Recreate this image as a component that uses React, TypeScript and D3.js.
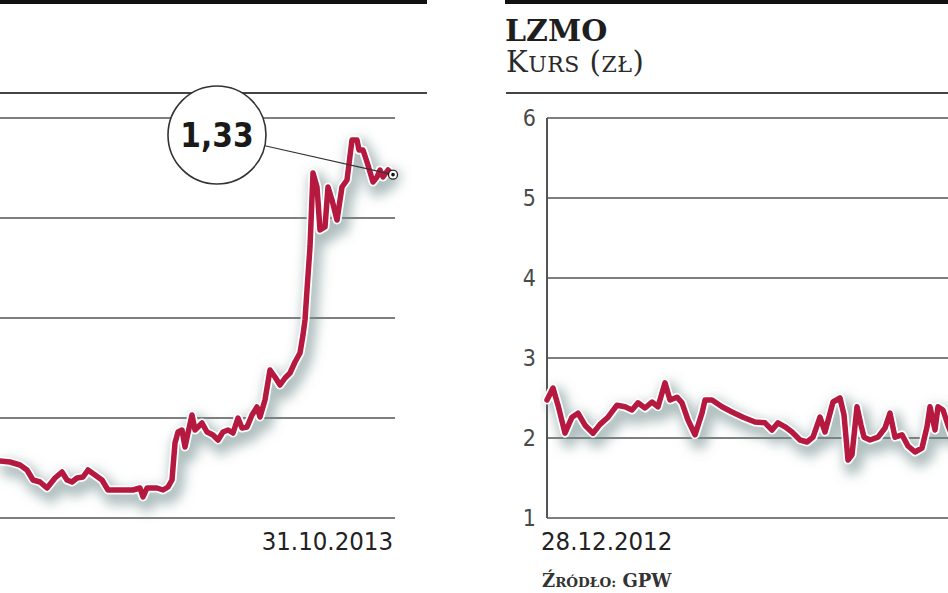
import * as d3 from "d3";

// left panel (series cut off by the crop) – trading-day index, price in zł
const leftDays = [31, 32.5, 37.5, 42.5, 46, 49, 52.5, 56, 60, 63.5, 66, 68.5, 71, 74, 76.5, 80, 83.5, 86.5, 92.5, 99, 102.5, 104, 106, 111, 114, 116.5, 118.5, 120, 121.5, 123.5, 125, 126.5, 128.5, 130, 131.5, 133.5, 136, 139, 141.5, 144, 146.5, 149, 151.5, 153.5, 156, 158.5, 161, 162.5, 165, 167.5, 170, 172.5, 175, 177.5, 180, 182.5, 184, 185, 186, 187.5, 189, 191, 192.5, 195, 196.5, 198.5, 201, 203.5, 206, 208.5, 211, 212, 214, 216, 219, 221, 222.5, 224, 226.5, 229];
const leftValues = [0.47, 0.471, 0.468, 0.459, 0.444, 0.414, 0.408, 0.39, 0.42, 0.438, 0.414, 0.408, 0.42, 0.423, 0.444, 0.429, 0.414, 0.384, 0.384, 0.384, 0.39, 0.363, 0.39, 0.39, 0.384, 0.393, 0.414, 0.525, 0.558, 0.564, 0.513, 0.555, 0.609, 0.564, 0.573, 0.585, 0.558, 0.549, 0.534, 0.558, 0.564, 0.555, 0.6, 0.57, 0.573, 0.609, 0.633, 0.603, 0.654, 0.744, 0.723, 0.699, 0.72, 0.735, 0.768, 0.795, 0.849, 0.894, 0.984, 1.113, 1.335, 1.293, 1.164, 1.173, 1.293, 1.254, 1.194, 1.293, 1.314, 1.434, 1.434, 1.404, 1.404, 1.368, 1.308, 1.323, 1.344, 1.323, 1.344, 1.33];
const leftTicks = [0.3, 0.6, 0.9, 1.2, 1.5];
const leftLastLabel = "1,33";
const leftEndDate = "31.10.2013";

// LZMO
const lzmoDays = [0, 3, 5.5, 9, 12.5, 15.5, 19, 23, 26.5, 30.5, 35, 39, 42.5, 45.5, 49, 52.5, 55.5, 59, 61.5, 65, 67.5, 70.5, 74, 77.5, 79, 82.5, 87.5, 92.5, 98, 104, 109, 112.5, 115.5, 119, 122.5, 126.5, 130, 133, 136.5, 139, 143, 146.5, 148.5, 150.5, 152.5, 155, 157, 158.5, 161.5, 165.5, 169, 171.5, 174, 177.5, 180.5, 184, 187.5, 190, 191.5, 194, 195.5, 198, 200.5, 203];
const lzmoValues = [2.475, 2.625, 2.41, 2.06, 2.26, 2.31, 2.16, 2.06, 2.17, 2.26, 2.41, 2.39, 2.35, 2.44, 2.375, 2.45, 2.39, 2.69, 2.475, 2.51, 2.44, 2.225, 2.04, 2.31, 2.475, 2.475, 2.39, 2.325, 2.26, 2.2, 2.19, 2.1, 2.19, 2.14, 2.075, 1.975, 1.95, 2.01, 2.26, 2.075, 2.45, 2.5, 2.29, 1.725, 1.79, 2.39, 2.16, 2.01, 1.975, 2.01, 2.125, 2.31, 2.01, 2.04, 1.9, 1.825, 1.875, 2.14, 2.39, 2.1, 2.39, 2.35, 2.16, 2.0];
const lzmoTicks = [1, 2, 3, 4, 5, 6];
const lzmoStartDate = "28.12.2012";

const RED = "#b5193f";
const GRID = "#555";
const sansNarrow = "'DejaVu Sans Condensed', 'Liberation Sans Narrow', sans-serif";
const serif = "'DejaVu Serif', 'Liberation Serif', serif";

const dayDomain: [number, number] = [0, 229];

function PriceLine({ d }: { d: string }) {
  return (
    <g>
      <path d={d} fill="none" stroke="#6e8888" strokeWidth={16} strokeOpacity={0.55} filter="url(#lineShadow)" strokeLinejoin="round" />
      <path d={d} fill="none" stroke="#fff" strokeWidth={9} strokeLinejoin="round" strokeLinecap="round" />
      <path d={d} fill="none" stroke={RED} strokeWidth={5.5} strokeLinejoin="round" strokeLinecap="round" />
    </g>
  );
}

export default function App() {
  // left panel
  const xL = d3.scaleLinear().domain(dayDomain).range([-65, 393]);
  const yL = d3.scaleLinear().domain([0.3, 1.5]).range([518, 118]);
  const leftPts = leftDays.map((t, i) => [t, leftValues[i]] as [number, number]);
  const lineL = d3.line<[number, number]>().x(p => xL(p[0])).y(p => yL(p[1]));

  // right panel
  const xR = d3.scaleLinear().domain(dayDomain).range([547, 1005]);
  const yR = d3.scaleLinear().domain([1, 6]).range([518, 118]);
  const rightPts = lzmoDays.map((t, i) => [t, lzmoValues[i]] as [number, number]);
  const lineR = d3.line<[number, number]>().x(p => xR(p[0])).y(p => yR(p[1]));

  const last = leftPts[leftPts.length - 1];
  const ex = xL(last[0]);
  const ey = yL(last[1]);
  const bub = { x: 217, y: 135, r: 49 };
  const ang = Math.atan2(ey - bub.y, ex - bub.x);

  return (
    <div style={{ position: "absolute", left: 0, top: 0 }}>
      <svg width={948} height={593} style={{ display: "block", background: "#fff" }}>
        <defs>
          <filter id="lineShadow" filterUnits="userSpaceOnUse" x={-100} y={0} width={1200} height={593}>
            <feOffset dx={4} dy={7} />
            <feGaussianBlur stdDeviation={6} />
          </filter>
          <clipPath id="clipR">
            <rect x={540} y={0} width={408} height={593} />
          </clipPath>
        </defs>

        {/* ---------- left panel ---------- */}
        <rect x={0} y={-2} width={427} height={6} fill="#111" />
        <line x1={0} x2={427} y1={93} y2={93} stroke="#444" strokeWidth={2} />
        {leftTicks.map(t => (
          <line key={t} x1={-65} x2={395} y1={yL(t)} y2={yL(t)} stroke={GRID} strokeWidth={1.6} />
        ))}
        <PriceLine d={lineL(leftPts) ?? ""} />
        <line
          x1={bub.x + bub.r * Math.cos(ang)}
          y1={bub.y + bub.r * Math.sin(ang)}
          x2={ex}
          y2={ey}
          stroke="#333"
          strokeWidth={1.2}
        />
        <circle cx={ex} cy={ey} r={4.5} fill="#fff" stroke="#222" strokeWidth={1.3} />
        <circle cx={ex} cy={ey} r={1.8} fill="#111" />
        <circle cx={bub.x} cy={bub.y} r={bub.r} fill="#fff" stroke="#333" strokeWidth={1.6} />
        <text x={bub.x} y={bub.y + 12} textAnchor="middle" fontFamily={sansNarrow} fontWeight="bold" fontSize={33} fill="#1a1a1a">
          {leftLastLabel}
        </text>
        <text x={393} y={550} textAnchor="end" fontFamily={sansNarrow} fontSize={25.5} fill="#222">
          {leftEndDate}
        </text>

        {/* ---------- right panel: LZMO ---------- */}
        <rect x={505} y={-2} width={443} height={6} fill="#111" />
        <text x={505} y={41} fontFamily={serif} fontWeight="bold" fontSize={30} fill="#1e1e1e">LZMO</text>
        <text x={506} y={72} fontFamily={serif} fontSize={29} fill="#2a2a2a" letterSpacing={0.5}>
          K<tspan fontSize={22}>URS</tspan> (<tspan fontSize={22}>ZŁ</tspan>)
        </text>
        <line x1={506} x2={948} y1={93} y2={93} stroke="#444" strokeWidth={2} />
        {lzmoTicks.map(t => (
          <g key={t}>
            <line x1={547} x2={948} y1={yR(t)} y2={yR(t)} stroke={GRID} strokeWidth={1.6} />
            <text x={536} y={yR(t) + 8} textAnchor="end" fontFamily={sansNarrow} fontSize={23} fill="#4a4a4a">
              {t}
            </text>
          </g>
        ))}
        <line x1={547} x2={547} y1={yR(6)} y2={yR(1)} stroke={GRID} strokeWidth={2} />
        <g clipPath="url(#clipR)">
          <PriceLine d={lineR(rightPts) ?? ""} />
        </g>
        <text x={541} y={550} fontFamily={sansNarrow} fontSize={25.5} fill="#222">
          {lzmoStartDate}
        </text>
        <text x={542} y={587} fontFamily={serif} fontWeight="bold" fontSize={18} fill="#333">
          Ź<tspan fontSize={13.5}>RÓDŁO:</tspan> GPW
        </text>
      </svg>
    </div>
  );
}
